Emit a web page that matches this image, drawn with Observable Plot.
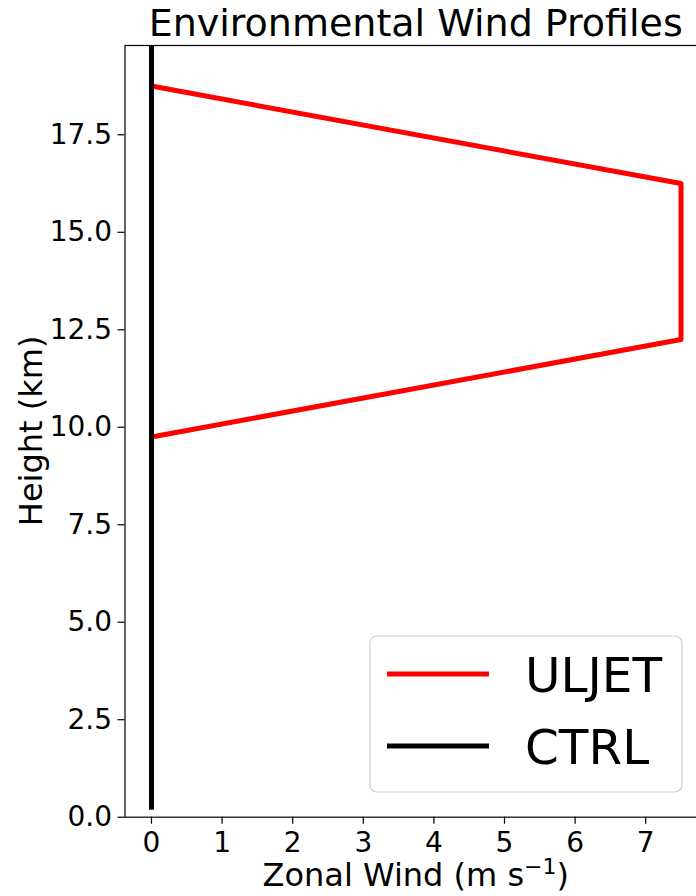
<!DOCTYPE html>
<html>
<head>
<meta charset="utf-8">
<script src="https://cdn.jsdelivr.net/npm/d3@7"></script>
<script src="https://cdn.jsdelivr.net/npm/@observablehq/plot@0.6"></script>
<style>
  html, body { margin: 0; padding: 0; background: white; overflow: hidden; width: 696px; height: 896px; }
  #chart svg { max-width: none; display: block; }
</style>
</head>
<body>
<div id="chart"></div>
<script>
// ---- data ----
const seriesNames = ["ULJET", "CTRL"];
const seriesColors = ["red", "black"];
const uljetHeight = [0.2, 9.75, 12.25, 16.25, 18.75, 20.0];
const uljetWind   = [0,   0,    7.5,   7.5,   0,     0];
const ctrlHeight  = [0.2, 20.0];
const ctrlWind    = [0,   0];
const xTicks = [0, 1, 2, 3, 4, 5, 6, 7];
const yTicks = [0, 2.5, 5, 7.5, 10, 12.5, 15, 17.5];
const titleText = "Environmental Wind Profiles";
const xLabelText = "Zonal Wind (m s";
const xLabelSup = "\u22121";
const xLabelEnd = ")";
const yLabelText = "Height (km)";

const uljet = uljetHeight.map((z, i) => ({z, u: uljetWind[i]}));
const ctrl = ctrlHeight.map((z, i) => ({z, u: ctrlWind[i]}));

const W = 707, H = 896;
const mL = 124.5, mT = 45, mB = 79.3, mR = 0;

const chart = Plot.plot({
  width: W, height: H,
  marginLeft: mL, marginRight: mR, marginTop: mT, marginBottom: mB,
  style: {fontFamily: "DejaVu Sans", fontSize: "28px", background: "white", color: "black"},
  x: {domain: [-0.375, 7.875]},
  y: {domain: [0, 19.79]},
  marks: [
    Plot.line(uljet, {x: "u", y: "z", stroke: seriesColors[0], strokeWidth: 5, strokeLinecap: "butt", clip: true}),
    Plot.line(ctrl, {x: "u", y: "z", stroke: seriesColors[1], strokeWidth: 5, strokeLinecap: "butt", clip: true}),
    Plot.frame({stroke: "black", strokeWidth: 1.2}),
    Plot.axisX({ticks: xTicks, tickSize: 7, tickPadding: 8, fontSize: 28, label: null, strokeWidth: 1.2}),
    Plot.axisY({ticks: yTicks, tickSize: 7, tickPadding: 6, fontSize: 28, tickFormat: d3.format(".1f"), label: null, strokeWidth: 1.2})
  ]
});
document.getElementById("chart").appendChild(chart);

const svg = d3.select(chart);
const font = "DejaVu Sans";
const cx = mL + (W - mR - mL) / 2;

// title
svg.append("text")
  .attr("x", cx).attr("y", 36)
  .attr("text-anchor", "middle")
  .attr("font-family", font).attr("font-size", 38).attr("fill", "black")
  .text(titleText);

// x label
const xl = svg.append("text")
  .attr("x", cx).attr("y", 886)
  .attr("text-anchor", "middle")
  .attr("font-family", font).attr("font-size", 32).attr("fill", "black");
xl.append("tspan").text(xLabelText);
xl.append("tspan").attr("font-size", 22).attr("dy", -12).text(xLabelSup);
xl.append("tspan").attr("dy", 12).text(xLabelEnd);

// y label
svg.append("text")
  .attr("transform", `translate(42,${mT + (H - mB - mT) / 2}) rotate(-90)`)
  .attr("text-anchor", "middle")
  .attr("font-family", font).attr("font-size", 32).attr("fill", "black")
  .text(yLabelText);

// legend
const lg = svg.append("g");
lg.append("rect")
  .attr("x", 370).attr("y", 636).attr("width", 312).attr("height", 156)
  .attr("rx", 7).attr("ry", 7)
  .attr("fill", "white").attr("fill-opacity", 0.8)
  .attr("stroke", "#cccccc").attr("stroke-width", 1.2);
seriesNames.forEach((name, i) => {
  const y = 674 + i * 72;
  lg.append("line")
    .attr("x1", 387).attr("x2", 489).attr("y1", y).attr("y2", y)
    .attr("stroke", seriesColors[i]).attr("stroke-width", 5);
  lg.append("text")
    .attr("x", 525).attr("y", y + 18)
    .attr("text-anchor", "start")
    .attr("font-family", font).attr("font-size", 48.5).attr("fill", "black")
    .text(name);
});
</script>
</body>
</html>
